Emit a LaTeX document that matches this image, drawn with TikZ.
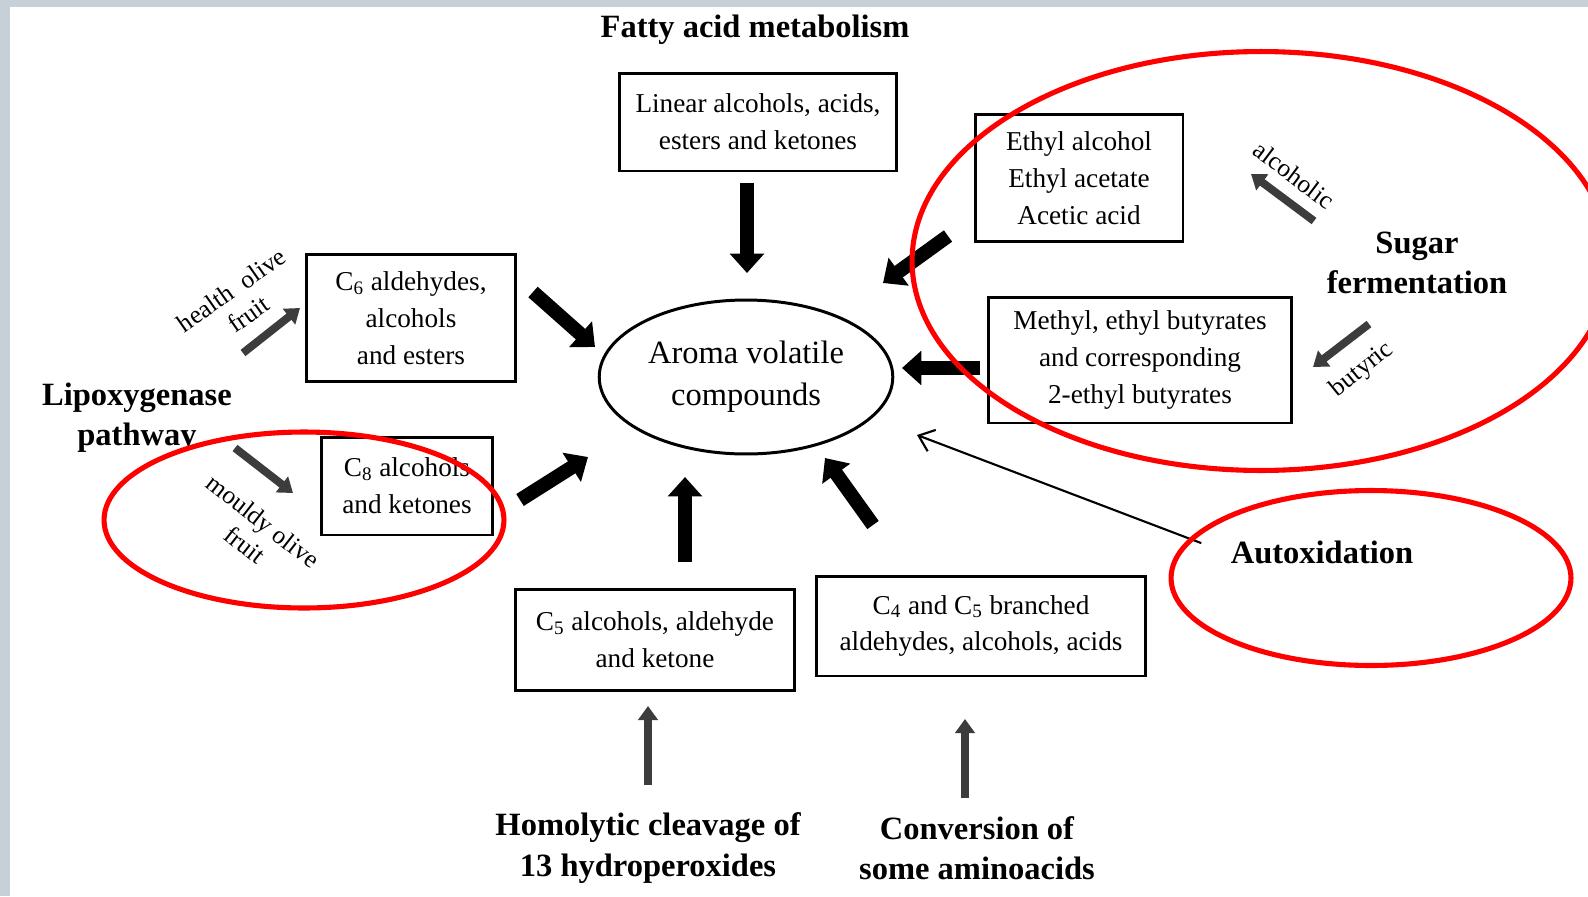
\documentclass[tikz,border=0pt]{standalone}
\usepackage{fontspec}
\setmainfont{Liberation Serif}
\usetikzlibrary{shapes.geometric}
\usetikzlibrary{arrows.meta}
\definecolor{edgegrey}{HTML}{C5D0D8}
\definecolor{arrowgrey}{HTML}{3C3C3C}

\begin{document}
\begin{tikzpicture}[x=0.02cm, y=-0.02cm,
    box/.style={draw, line width=1.7pt, align=center, inner sep=0pt, font=\fontsize{15.5}{21}\selectfont},
    source/.style={align=center, font=\bfseries\fontsize{18.5}{23}\selectfont},
    tag/.style={align=center, font=\fontsize{14.5}{17}\selectfont},
    bigarrow/.style={line width=8pt, -{Triangle[length=11pt,width=19pt]}},
    greyarrow/.style={draw=arrowgrey, line width=4.5pt, -{Triangle[length=8pt,width=11pt]}},
    ring/.style={draw=red, line width=2.9pt}]
    \useasboundingbox (0,0) rectangle (1588,896);
    \clip (0,0) rectangle (1588,896);
    \fill[edgegrey] (0,0) rectangle (1588,896);
    \fill[white] (10,7) rectangle (1588,896);

    % centre
    \node[ellipse, draw, line width=1.7pt, minimum width=5.8cm, minimum height=3.08cm, align=center,
        font=\fontsize{18.5}{24}\selectfont] (aroma) at (746,377) {Aroma volatile\\compounds};

    % compound boxes
    \node[box, minimum width=5.56cm, minimum height=1.96cm] (lin) at (758,122) {Linear alcohols, acids,\\esters and ketones};
    \node[box, minimum width=4.16cm, minimum height=2.54cm] (eth) at (1079,178) {Ethyl alcohol\\Ethyl acetate\\Acetic acid};
    \node[box, minimum width=6.08cm, minimum height=2.52cm] (meth) at (1140,360) {Methyl, ethyl butyrates\\and corresponding\\2-ethyl butyrates};
    \node[box, minimum width=4.18cm, minimum height=2.54cm] (c6) at (411,318) {C\textsubscript{6} aldehydes,\\alcohols\\and esters};
    \node[box, minimum width=3.44cm, minimum height=1.96cm] (c8) at (407,486) {C\textsubscript{8} alcohols\\and ketones};
    \node[box, minimum width=5.6cm, minimum height=2.02cm] (c5) at (655,640) {C\textsubscript{5} alcohols, aldehyde\\and ketone};
    \node[box, minimum width=6.58cm, minimum height=2cm] (c4) at (981,626) {C\textsubscript{4} and C\textsubscript{5} branched\\aldehydes, alcohols, acids};

    % pathways
    \node[source] (fatty) at (755,30) {Fatty acid metabolism};
    \node[source] (lipox) at (137,418) {Lipoxygenase\\pathway};
    \node[source] (sugar) at (1417,263) {Sugar\\fermentation};
    \node[source] (autox) at (1322,552) {Autoxidation};
    \node[source] (homol) at (648,848) {Homolytic cleavage of\\13 hydroperoxides};
    \node[source] (conv) at (977,848) {Conversion of\\some aminoacids};

    \node[tag, rotate=35] (healthy) at (240,302) {health\enspace olive\\fruit};
    \node[tag, rotate=-38] (mouldy) at (254,533) {mouldy olive\\fruit};
    \node[tag, rotate=-37] (alc) at (1294,175) {alcoholic};
    \node[tag, rotate=39] (but) at (1362,370) {butyric};

    % arrow ends
    \coordinate (linout) at (747,183);   \coordinate (linin) at (747,273);
    \coordinate (c6out) at (533,292);    \coordinate (c6in) at (595,347);
    \coordinate (c8out) at (520,500);    \coordinate (c8in) at (588,457);
    \coordinate (c5out) at (685,562);    \coordinate (c5in) at (685,477);
    \coordinate (c4out) at (873,525);    \coordinate (c4in) at (825,458);
    \coordinate (ethout) at (948,236);   \coordinate (ethin) at (883,283);
    \coordinate (methout) at (980,368);  \coordinate (methin) at (902,368);
    \coordinate (autoxin) at (917,435);

    \coordinate (hfrom) at (243,353);    \coordinate (hto) at (300,308);
    \coordinate (mfrom) at (235,448);    \coordinate (mto) at (293,493);
    \coordinate (afrom) at (1314,221);   \coordinate (ato) at (1251,174);
    \coordinate (bfrom) at (1369,324);   \coordinate (bto) at (1313,367);
    \coordinate (hcfrom) at (648,785);   \coordinate (hcto) at (648,706);
    \coordinate (cvfrom) at (965,798);   \coordinate (cvto) at (965,719);

    \draw[bigarrow] (linout) -- (linin);
    \draw[bigarrow] (c6out) -- (c6in);
    \draw[bigarrow] (c8out) -- (c8in);
    \draw[bigarrow] (c5out) -- (c5in);
    \draw[bigarrow] (c4out) -- (c4in);
    \draw[bigarrow] (ethout) -- (ethin);
    \draw[bigarrow] (methout) -- (methin);
    \draw[line width=1.2pt, -{Straight Barb[length=8pt,width=13pt]}, shorten <=0.5cm] (autox.west) -- (autoxin);

    \draw[greyarrow] (hfrom) -- (hto);
    \draw[greyarrow] (mfrom) -- (mto);
    \draw[greyarrow] (afrom) -- (ato);
    \draw[greyarrow] (bfrom) -- (bto);
    \draw[greyarrow] (hcfrom) -- (hcto);
    \draw[greyarrow] (cvfrom) -- (cvto);

    % red marks
    \draw[ring] (304,520) ellipse [x radius=4cm, y radius=1.76cm];
    \draw[ring] (1371,578) ellipse [x radius=4cm, y radius=1.75cm];
    \draw[ring] (1261,261) ellipse [x radius=6.98cm, y radius=4.19cm];
\end{tikzpicture}
\end{document}
